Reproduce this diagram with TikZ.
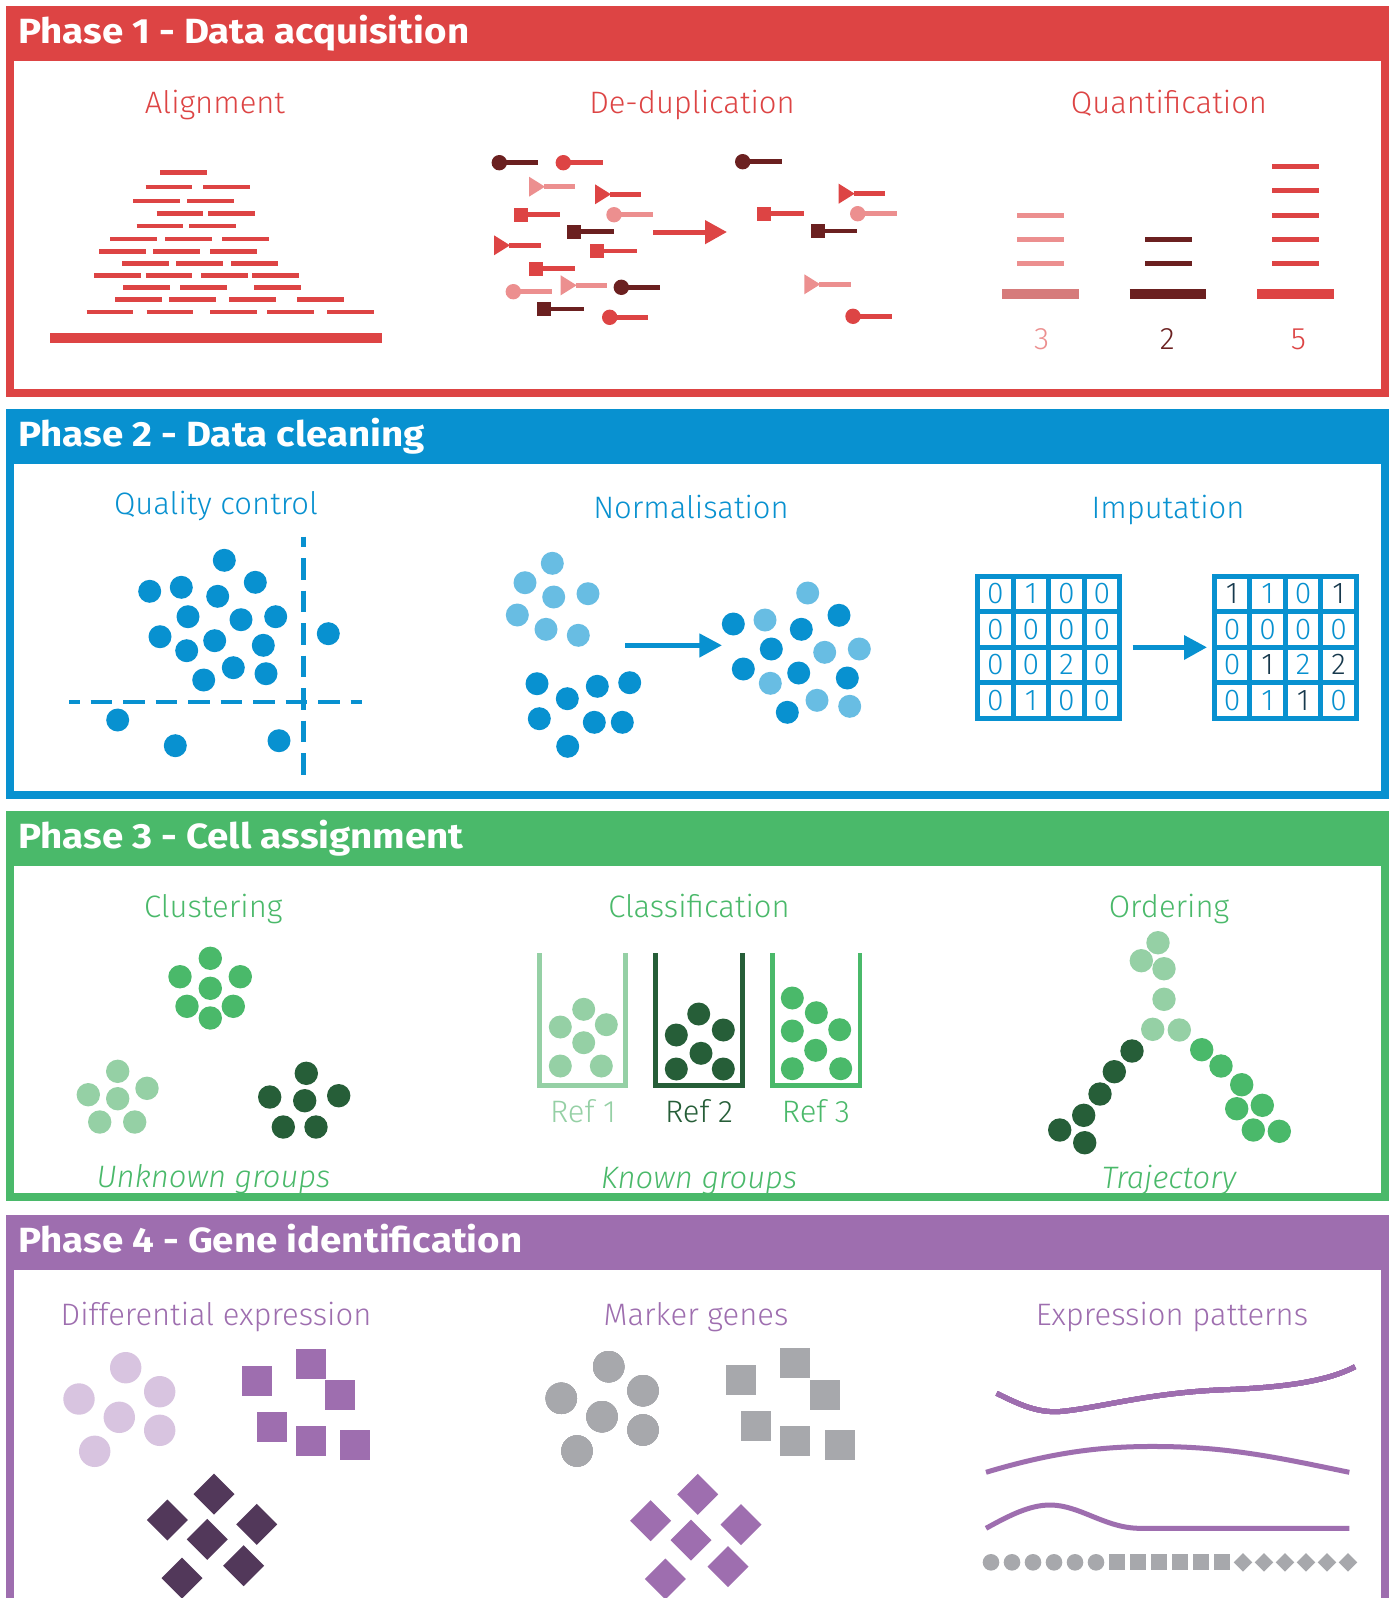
\documentclass[tikz,border=0pt]{standalone}
\usepackage{fontspec}
\setmainfont{Fira Sans Light}[BoldFont={Fira Sans SemiBold},ItalicFont={Fira Sans Light Italic}]
\newfontfamily\titlefont{Fira Sans Bold}[FakeStretch=1.1]
\definecolor{pRed}{HTML}{DD4444}
\definecolor{pPink}{HTML}{EC8F8F}
\definecolor{pPinkDk}{HTML}{D67B7B}
\definecolor{pDkRed}{HTML}{6B2020}
\definecolor{pBlue}{HTML}{0891D0}
\definecolor{pLtBlue}{HTML}{68BDE3}
\definecolor{pNavy}{HTML}{17394D}
\definecolor{pGreen}{HTML}{4AB96A}
\definecolor{pLtGreen}{HTML}{95D0A5}
\definecolor{pDkGreen}{HTML}{265E38}
\definecolor{pPurple}{HTML}{9E6EAF}
\definecolor{pLtPurple}{HTML}{D8C4E0}
\definecolor{pDkPurple}{HTML}{52385A}
\definecolor{pGrey}{HTML}{A7A8AC}
\newcommand\readC[4]{\fill[#1] (#2,#3) circle (7.7);\draw[#1,line width=4.7pt] (#2,#3) -- (#4,#3);}
\newcommand\readT[4]{\fill[#1] (#2,#3-10) -- (#2+16,#3) -- (#2,#3+10) -- cycle;\draw[#1,line width=4.7pt] (#2+15,#3) -- (#4,#3);}
\newcommand\readS[4]{\fill[#1] (#2,#3-6.8) rectangle (#2+13.6,#3+6.8);\draw[#1,line width=4.7pt] (#2+13,#3) -- (#4,#3);}
\newcommand\phasebox[5]{\fill[#1] (6,#2) rectangle (1389,#2+55);\draw[#1,line width=8pt] (10,#2+4) rectangle (1385,#3-4);\node[title] (#4) at (18,#2+37) {#5};}
\newcommand\diam[4]{\fill[#1] (#2,#3-#4) -- (#2+#4,#3) -- (#2,#3+#4) -- (#2-#4,#3) -- cycle;}
\begin{document}
\begin{tikzpicture}[x=1pt,y=-1pt,
  title/.style={anchor=base west,inner sep=0,text=white,font=\titlefont\fontsize{35}{40}\selectfont},
  lbl/.style={anchor=base,inner sep=0,font=\fontsize{31}{36}\selectfont},
  ilbl/.style={anchor=base,inner sep=0,font=\itshape\fontsize{31}{36}\selectfont},
  num/.style={anchor=center,inner sep=0,font=\fontsize{30}{34}\selectfont},
  read/.style={pRed,line width=4.4pt},
  bar/.style={line width=10pt},
  tick/.style={line width=5pt},
  qcdash/.style={pBlue,line width=4.7pt,dash pattern=on 21.7pt off 10.8pt,dash phase=11pt},
  arr/.style={line width=5pt},
  beaker/.style={line width=4.5pt},
  curve/.style={pPurple,line width=5pt}]
\useasboundingbox (0,0) rectangle (1390,1598);
\fill[white] (0,0) rectangle (1390,1598);
\begin{scope}
\clip (0,0) rectangle (1390,1598);
% ---------------- boxes
\phasebox{pRed}{6}{397}{ph1}{Phase 1 - Data acquisition}
\phasebox{pBlue}{409}{799}{ph2}{Phase 2 - Data cleaning}
\phasebox{pGreen}{811}{1201}{ph3}{Phase 3 - Cell assignment}
\phasebox{pPurple}{1215}{1640}{ph4}{Phase 4 - Gene identification}

% ================= PHASE 1
\node[lbl,text=pRed] (align) at (215,113) {Alignment};
\node[lbl,text=pRed] (dedup) at (692,113) {De-duplication};
\node[lbl,text=pRed] (quant) at (1169,113) {Quantification};
\foreach \a/\b in {160/172.3, 145.7/186.7, 203.3/186.7, 133.3/201, 187.3/201,
  156.7/213.3, 208.3/213.3, 136.7/225.7, 189.3/225.7,
  110/239, 165/239, 222/239, 99/251.3, 153/251.3, 210.3/251.3,
  122.3/263.3, 176.3/263.3, 231.3/263.3,
  94.3/275.3, 145.7/275.3, 201/275.3, 252/275.3,
  123.3/287.3, 180/287.3, 254.3/287.3,
  115/299.3, 169/299.3, 229.3/299.3, 297/299.3,
  86.7/311.7, 146.7/311.7, 210.3/311.7, 267/311.7, 327/311.7}
  \draw[read] (\a,\b) -- ++(46.7,0);
\draw[read,bar] (50.3,338.3) -- (381.7,338.3);
% de-duplication, left
\readC{pDkRed}{499.3}{162.7}{538.3}
\readC{pRed}{563.3}{162.7}{602.7}
\readT{pPink}{529}{186.7}{575.3}
\readT{pRed}{595}{194.3}{641.3}
\readS{pRed}{514.3}{214.7}{560.3}
\readC{pPink}{614}{214.7}{652.7}
\readS{pDkRed}{567}{231.7}{613.7}
\readT{pRed}{494}{245.3}{540.7}
\readS{pRed}{590}{251}{636.7}
\readS{pRed}{529}{268.7}{575.3}
\readC{pPink}{513.3}{291.7}{552}
\readT{pPink}{560.7}{285.3}{607}
\readC{pDkRed}{621.3}{287.3}{660}
\readS{pDkRed}{537}{309}{583.7}
\readC{pRed}{609.7}{317.3}{648.3}
% arrow
\draw[pRed,arr] (653.3,232) -- (706,232);
\fill[pRed] (705,220) -- (726.7,232) -- (705,244.3) -- cycle;
% de-duplication, right
\readC{pDkRed}{742.7}{161.7}{782}
\readT{pRed}{838.7}{193.7}{885}
\readS{pRed}{757}{213.7}{803.7}
\readC{pPink}{857.7}{213.7}{896.7}
\readS{pDkRed}{811}{231}{857}
\readT{pPink}{804.3}{284.3}{850.7}
\readC{pRed}{853}{316.3}{892.3}
% quantification
\foreach \y in {215,239,263.3} \draw[pPink,tick] (1017,\y) -- (1063.7,\y);
\draw[pPinkDk,bar] (1002,294.3) -- (1078.7,294.3);
\foreach \y in {239,263.3} \draw[pDkRed,tick] (1145,\y) -- (1191.7,\y);
\draw[pDkRed,bar] (1129.7,294.3) -- (1206.3,294.3);
\foreach \y in {166.7,190.7,215,239,263.3} \draw[pRed,tick] (1272.3,\y) -- (1319,\y);
\draw[pRed,bar] (1257.3,294.3) -- (1334,294.3);
\node[lbl,text=pPink] (q3) at (1041.7,349) {3};
\node[lbl,text=pDkRed] (q2) at (1167.3,349) {2};
\node[lbl,text=pRed] (q5) at (1298.3,349) {5};

% ================= PHASE 2
\node[lbl,text=pBlue] (qc) at (216,514) {Quality control};
\node[lbl,text=pBlue] (norm) at (691,518) {Normalisation};
\node[lbl,text=pBlue] (imp) at (1168,518) {Imputation};
\foreach \x/\y in {224.3/560.3, 149.7/591.3, 181.3/587.3, 217.7/596.3, 255.3/582.3,
  188/616.7, 241/619.7, 275.7/616.7, 160/636.7, 214.7/640.7, 263.3/645.3,
  186.7/650.7, 233.3/667.7, 266/673.7, 203.7/680, 328.3/633.7,
  117.7/720, 175.3/745.7, 279/740.7}
  \fill[pBlue] (\x,\y) circle (11.5);
\draw[qcdash] (69,702) -- (361.7,702);
\draw[qcdash] (303.3,536.7) -- (303.3,775);
% normalisation
\foreach \x/\y in {552.3/563.3, 525/582.7, 553.7/597, 588/593.7, 517.3/615, 546/629.3, 578.3/635.3}
  \fill[pLtBlue] (\x,\y) circle (11.5);
\foreach \x/\y in {537/683.7, 567.3/698.7, 597.3/686.3, 629.7/682.7, 539.3/718.7, 594.3/722.3, 622.3/722.3, 567.7/746.3}
  \fill[pBlue] (\x,\y) circle (11.5);
\draw[pBlue,arr] (625,645.3) -- (700,645.3);
\fill[pBlue] (699.3,633.3) -- (721.7,645.3) -- (699.3,657.7) -- cycle;
\foreach \x/\y in {807.7/593, 765/620, 824.7/652.3, 859.3/649, 770.3/683.3, 817/700.3, 849.7/706.3}
  \fill[pLtBlue] (\x,\y) circle (11.5);
\foreach \x/\y in {733.3/624, 801.3/629.3, 839/615.3, 771.3/649, 743.3/669, 798.7/673, 847.3/678, 787.3/712.3}
  \fill[pBlue] (\x,\y) circle (11.5);
% imputation
\foreach \gx in {977.7,1214.3}{
  \draw[pBlue,tick] (\gx,576) rectangle ++(142,142);
  \foreach \i in {1,2,3}{
    \draw[pBlue,tick] (\gx+35.5*\i,576) -- ++(0,142);
    \draw[pBlue,tick] (\gx,576+35.5*\i) -- ++(142,0);}}
\foreach \r/\c/\v in {0/0/0,0/1/1,0/2/0,0/3/0, 1/0/0,1/1/0,1/2/0,1/3/0,
  2/0/0,2/1/0,2/2/2,2/3/0, 3/0/0,3/1/1,3/2/0,3/3/0}
  \node[num,text=pBlue] (ml\r\c) at (995.45+35.5*\c,593.75+35.5*\r) {\v};
\draw[pBlue,arr] (1132.7,647.3) -- (1185,647.3);
\fill[pBlue] (1184,635) -- (1206.7,647.3) -- (1184,660) -- cycle;
\foreach \r/\c/\v/\col in {0/0/1/pNavy,0/1/1/pBlue,0/2/0/pBlue,0/3/1/pNavy,
  1/0/0/pBlue,1/1/0/pBlue,1/2/0/pBlue,1/3/0/pBlue,
  2/0/0/pBlue,2/1/1/pNavy,2/2/2/pBlue,2/3/2/pNavy,
  3/0/0/pBlue,3/1/1/pBlue,3/2/1/pNavy,3/3/0/pBlue}
  \node[num,text=\col] (mr\r\c) at (1232.05+35.5*\c,593.75+35.5*\r) {\v};

% ================= PHASE 3
\node[lbl,text=pGreen] (clus) at (213.3,917) {Clustering};
\node[lbl,text=pGreen] (class) at (699,917) {Classification};
\node[lbl,text=pGreen] (order) at (1169,917) {Ordering};
\foreach \x/\y in {210.3/958.3, 180/976.7, 240.3/976.7, 210.3/988.3, 187/1006.3, 233.3/1006.3, 210.3/1018}
  \fill[pGreen] (\x,\y) circle (11.7);
\foreach \x/\y in {117.7/1071.3, 88.3/1094.7, 147/1088.3, 117.7/1098.7, 99.7/1122, 134.7/1122}
  \fill[pLtGreen] (\x,\y) circle (11.7);
\foreach \x/\y in {306.3/1073.3, 269.7/1097, 304.7/1100.7, 338.7/1095.7, 283.3/1127, 316/1127}
  \fill[pDkGreen] (\x,\y) circle (11.7);
\node[ilbl,text=pGreen] (unk) at (213.5,1187) {Unknown groups};
% classification
\draw[pLtGreen,beaker] (539.7,953.3) -- (539.7,1085.3) -- (625.7,1085.3) -- (625.7,953.3);
\draw[pDkGreen,beaker] (655.7,953.3) -- (655.7,1085.3) -- (742.3,1085.3) -- (742.3,953.3);
\draw[pGreen,beaker] (772.3,953.3) -- (772.3,1085.3) -- (860,1085.3) -- (860,953.3);
\foreach \x/\y in {583.7/1009.3, 560.3/1027, 606.3/1024.7, 583.7/1042.7, 560.3/1066, 601.3/1066}
  \fill[pLtGreen] (\x,\y) circle (11.5);
\foreach \x/\y in {698.7/1014, 676.3/1035, 723.3/1030, 701/1053.3, 676.3/1069, 723.3/1069}
  \fill[pDkGreen] (\x,\y) circle (11.5);
\foreach \x/\y in {792.3/998, 816.3/1012.7, 792.3/1031, 839.7/1029.7, 815.7/1050.3, 792.3/1068.7, 840.7/1068.7}
  \fill[pGreen] (\x,\y) circle (11.5);
\node[lbl,text=pLtGreen] (r1) at (583,1122) {Ref 1};
\node[lbl,text=pDkGreen] (r2) at (699,1122) {Ref 2};
\node[lbl,text=pGreen] (r3) at (816,1122) {Ref 3};
\node[ilbl,text=pGreen] (known) at (699,1188) {Known groups};
% ordering
\foreach \x/\y in {1158/942.7, 1141.3/960.7, 1164/968.7, 1164/999.3, 1152.7/1029.3, 1179.3/1030}
  \fill[pLtGreen] (\x,\y) circle (11.7);
\foreach \x/\y in {1132/1051, 1114.3/1071.7, 1100/1094, 1083.7/1115.3, 1059.7/1130, 1084.7/1142.7}
  \fill[pDkGreen] (\x,\y) circle (11.7);
\foreach \x/\y in {1201.7/1049.7, 1221/1066, 1241.7/1084.7, 1236.7/1108.7, 1262.3/1105.3, 1253.3/1130, 1279.3/1131.3}
  \fill[pGreen] (\x,\y) circle (11.7);
\node[ilbl,text=pGreen] (traj) at (1169,1188) {Trajectory};

% ================= PHASE 4
\node[lbl,text=pPurple] (diff) at (216,1325) {Differential expression};
\node[lbl,text=pPurple] (mark) at (696,1325) {Marker genes};
\node[lbl,text=pPurple] (expr) at (1172,1325) {Expression patterns};
\foreach \x/\y in {125.7/1367.7, 79/1399, 159.7/1391.7, 119.3/1417.3, 159.7/1430.3, 94.7/1451.3}
  \fill[pLtPurple] (\x,\y) circle (15.7);
\foreach \x/\y in {257/1381, 311/1364, 340/1395, 272/1427, 311/1441, 355/1445}
  \fill[pPurple] (\x-15,\y-15) rectangle ++(30,30);
\foreach \x/\y in {214/1494, 167.3/1520, 256.7/1524.3, 207.3/1539.3, 243.7/1565.7, 182/1578}
  \diam{pDkPurple}{\x}{\y}{20.5}
% marker genes
\foreach \x/\y in {608.7/1366.7, 561.3/1398.3, 643/1390.7, 602/1416.7, 643/1430, 577/1451}
  \fill[pGrey] (\x,\y) circle (15.7);
\foreach \x/\y in {741/1380, 795/1363, 825/1395, 756/1426, 795/1441, 840/1445}
  \fill[pGrey] (\x-15,\y-15) rectangle ++(30,30);
\foreach \x/\y in {697.7/1494.3, 650.7/1520.7, 741/1524.7, 691/1540, 728/1566.7, 665.3/1579}
  \diam{pPurple}{\x}{\y}{20.5}
% expression patterns
\draw[curve] (996.7,1393.3) .. controls (1020,1405) and (1038,1413) .. (1060,1411.5)
  .. controls (1100,1408) and (1150,1392) .. (1230,1389.5)
  .. controls (1290,1387) and (1330,1380) .. (1355,1366.7);
\draw[curve] (986,1472.3) .. controls (1060,1450) and (1110,1446) .. (1160,1446.5)
  .. controls (1230,1447) and (1280,1458) .. (1349.3,1472.3);
\draw[curve] (986,1528.3) .. controls (1010,1515) and (1030,1505) .. (1050,1505)
  .. controls (1080,1505) and (1105,1528.3) .. (1140,1528.3) -- (1349.3,1528.3);
\foreach \k in {0,...,5}{
  \fill[pGrey] (991+21*\k,1562.3) circle (8.3);
  \fill[pGrey] (1109+21*\k,1554.3) rectangle ++(16,16);
  \diam{pGrey}{1243+21*\k}{1562.3}{9.3}}
\end{scope}
\end{tikzpicture}
\end{document}
